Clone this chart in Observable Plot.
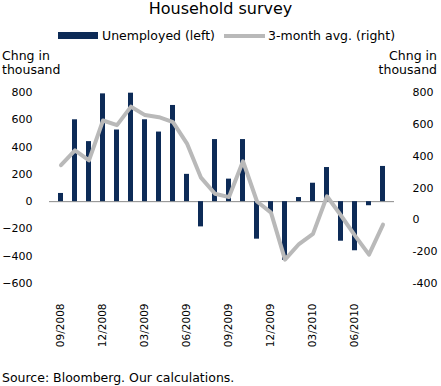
<!DOCTYPE html>
<html><head><meta charset="utf-8">
<script src="https://cdn.jsdelivr.net/npm/d3@7"></script>
<script src="https://cdn.jsdelivr.net/npm/@observablehq/plot@0.6"></script>
<style>
body{margin:0;background:#fff;font-family:"DejaVu Sans",sans-serif;}
#wrap{position:relative;width:441px;height:386px;overflow:hidden;background:#fff;}
.t{position:absolute;white-space:nowrap;color:#000;line-height:1.1;}
#chart{position:absolute;left:0;top:0;}
</style></head><body><div id="wrap"><div id="chart"></div></div>
<script>
const title = "Household survey";
const source = "Source: Bloomberg. Our calculations.";
const axisTitle = ["Chng in", "thousand"];
const seriesNames = ["Unemployed (left)", "3-month avg. (right)"];
const seriesColors = ["#0d2b57", "#b9b9b9"];

const months = ["09/2008","10/2008","11/2008","12/2008","01/2009","02/2009","03/2009","04/2009",
  "05/2009","06/2009","07/2009","08/2009","09/2009","10/2009","11/2009","12/2009",
  "01/2010","02/2010","03/2010","04/2010","05/2010","06/2010","07/2010","08/2010"];
const unemployed = [60, 600, 440, 790, 525, 795, 600, 510, 705, 200, -185, 455,
  165, 455, -275, -80, -430, 30, 135, 250, -290, -360, -30, 258];
const avg3m = [343, 437, 374, 624, 595, 711, 658, 645, 614, 479, 265, 164,
  143, 368, 115, 45, -250, -152, -88, 148, 27, -99, -219, -30];

const leftTicks = [-600, -400, -200, 0, 200, 400, 600, 800];
const rightTicks = [-400, -200, 0, 200, 400, 600, 800];
const xTicks = ["09/2008","12/2008","03/2009","06/2009","09/2009","12/2009","03/2010","06/2010"];

// right axis [-400, 800] shares the frame with left axis [-600, 800]
const toLeft = v => -600 + (v + 400) * 1400 / 1200;
const fromLeft = v => (v + 600) * 1200 / 1400 - 400;

const data = months.map((m, i) => ({month: m, u: unemployed[i], a: toLeft(avg3m[i])}));

const plot = Plot.plot({
  width: 441, height: 386,
  marginTop: 92, marginBottom: 103, marginLeft: 49, marginRight: 47,
  x: {type: "band", domain: months, paddingInner: 0.62, paddingOuter: 0.31, align: 0.5},
  y: {domain: [-600, 800]},
  style: {fontFamily: "DejaVu Sans", fontSize: "11px", color: "#000", background: "transparent"},
  marks: [
    Plot.ruleY([0], {stroke: "#8a8a8a", strokeWidth: 1}),
    Plot.barY(data, {x: "month", y: "u", fill: seriesColors[0]}),
    Plot.line(data, {x: "month", y: "a", stroke: seriesColors[1], strokeWidth: 4, strokeLinejoin: "round", strokeLinecap: "round"}),
    Plot.axisY(leftTicks, {anchor: "left", tickSize: 0, tickPadding: 17, label: null, fill: "#000"}),
    Plot.axisY(rightTicks.map(toLeft), {anchor: "right", tickSize: 0, tickPadding: 18, label: null, fill: "#000",
      tickFormat: d => String(Math.round(fromLeft(d)))}),
    Plot.axisX(xTicks, {anchor: "bottom", tickSize: 0, tickPadding: 20, tickRotate: -90, label: null, fill: "#000", fontSize: 10.5})
  ]
});
document.getElementById("chart").appendChild(plot);

const wrap = document.getElementById("wrap");
function addText(txt, css) {
  const d = document.createElement("div");
  d.className = "t";
  d.textContent = txt;
  Object.assign(d.style, css);
  wrap.appendChild(d);
  return d;
}
addText(title, {left: "0px", width: "441px", textAlign: "center", top: "0px", fontSize: "16px"});
// legend
const sw1 = document.createElement("div");
Object.assign(sw1.style, {position: "absolute", left: "58px", top: "32px", width: "40px", height: "7px", background: seriesColors[0]});
wrap.appendChild(sw1);
addText(seriesNames[0], {left: "102px", top: "29px", fontSize: "12.5px"});
const sw2 = document.createElement("div");
Object.assign(sw2.style, {position: "absolute", left: "224px", top: "33.5px", width: "41px", height: "4px", background: seriesColors[1]});
wrap.appendChild(sw2);
addText(seriesNames[1], {left: "268px", top: "29px", fontSize: "12.5px"});
// axis titles
addText(axisTitle[0], {left: "2px", top: "48.5px", fontSize: "12.5px"});
addText(axisTitle[1], {left: "2px", top: "62.5px", fontSize: "12.5px"});
addText(axisTitle[0], {right: "4px", top: "48.5px", fontSize: "12.5px"});
addText(axisTitle[1], {right: "4px", top: "62.5px", fontSize: "12.5px"});
addText(source, {left: "2px", top: "371px", fontSize: "12.5px"});
</script></body></html>
